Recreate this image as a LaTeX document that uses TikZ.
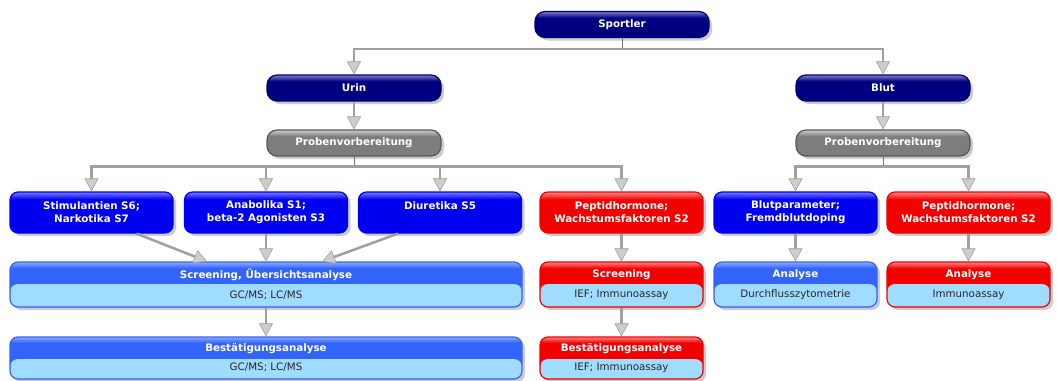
\documentclass[tikz,border=0pt]{standalone}
\usepackage{fontspec}
\setmainfont{DejaVu Sans}
\usetikzlibrary{arrows.meta,shadows,positioning}
\definecolor{N}{RGB}{0,0,128}
\definecolor{NL}{RGB}{125,125,205}
\definecolor{P}{RGB}{125,125,125}
\definecolor{PL}{RGB}{205,205,205}
\definecolor{B}{RGB}{0,0,240}
\definecolor{BL}{RGB}{120,120,255}
\definecolor{R}{RGB}{242,0,0}
\definecolor{RL}{RGB}{255,135,135}
\definecolor{M}{RGB}{50,100,250}
\definecolor{ML}{RGB}{140,170,255}
\definecolor{C}{RGB}{160,220,255}
\definecolor{L}{RGB}{160,160,160}
\definecolor{T}{RGB}{205,205,205}
% glossy top band: name, colour, where the band starts
\newcommand{\glossy}[3]{\pgfdeclareverticalshading{#1}{100bp}{color(0bp)=(#2); color(#3)=(#2); color(75bp)=(#2L); color(100bp)=(#2L)}}
\glossy{glossN}{N}{63bp}
\glossy{glossP}{P}{63bp}
\glossy{glossB}{B}{66bp}
\glossy{glossR}{R}{66bp}
\glossy{glossM}{M}{68bp}
\glossy{glossH}{R}{68bp}
\newcommand{\dpfont}{\fontsize{10.3}{13}\selectfont}
\newcommand{\bandtext}[1]{\textcolor{black!85}{\mdseries #1}}
\tikzstyle{box} = [rectangle, inner sep=0pt, align=center, text=white,
  font=\dpfont\bfseries, shade, line width=1.2pt,
  drop shadow={shadow xshift=3pt, shadow yshift=-3pt, opacity=0.4}]
\tikzstyle{navybox} = [box, draw=N!80!black, shading=glossN, rounded corners=10pt,
  minimum width=174pt, minimum height=26pt]
\tikzstyle{graybox} = [navybox, draw=P!70!black, shading=glossP]
\tikzstyle{bluebox} = [box, draw=B, shading=glossB, rounded corners=8pt,
  minimum width=163pt, minimum height=41pt]
\tikzstyle{redbox} = [bluebox, draw=R, shading=glossR]
\tikzstyle{pair} = [box, rounded corners=8pt, minimum width=163pt, minimum height=45pt,
  path picture={\fill[C] ([yshift=-22pt]path picture bounding box.north west)
    rectangle (path picture bounding box.south east);}]
\tikzstyle{bluepair} = [pair, draw=M, shading=glossM]
\tikzstyle{redpair} = [pair, draw=R, shading=glossH]
\tikzstyle{conn} = [draw=L, line width=2.5pt,
  -{Triangle[width=14pt,length=13pt,fill=T,line width=0.6pt]}]
\tikzstyle{stub} = [draw=black!55, line width=0.8pt]
\begin{document}
\begin{tikzpicture}[x=1pt,y=-1pt]
\useasboundingbox (0,0) rectangle (1057,380);
% top
\node[navybox] (sp) at (622,24.5) {Sportler};
\node[navybox] (urin) at (354,88) {Urin};
\node[navybox] (blut) at (883,88) {Blut};
\node[graybox] (prob1) at (354,143) {Probenvorbereitung};
\node[graybox] (prob2) at (883,143) {Probenvorbereitung};
% substance groups
\node[bluebox] (stim) at (91.5,212.5) {Stimulantien S6;\\Narkotika S7};
\node[bluebox] (anab) at (266,212.5) {Anabolika S1;\\beta-2 Agonisten S3};
\node[bluebox] (diur) at (440,212.5) {Diuretika S5\\\mbox{}};
\node[redbox] (pep1) at (621.5,212.5) {Peptidhormone;\\Wachstumsfaktoren S2};
\node[bluebox] (bpar) at (795.5,212.5) {Blutparameter;\\Fremdblutdoping};
\node[redbox] (pep2) at (968.5,212.5) {Peptidhormone;\\Wachstumsfaktoren S2};
% analyses
\node[bluepair, minimum width=512pt] (scr) at (266,284.5)
  {Screening, Übersichtsanalyse\\[7pt]\bandtext{GC/MS; LC/MS}};
\node[redpair] (scr2) at (621.5,284.5) {Screening\\[7pt]\bandtext{IEF; Immunoassay}};
\node[bluepair] (ana1) at (795.5,284.5) {Analyse\\[7pt]\bandtext{Durchflusszytometrie}};
\node[redpair] (ana2) at (968.5,284.5) {Analyse\\[7pt]\bandtext{Immunoassay}};
\node[bluepair, minimum width=512pt, minimum height=42pt] (best) at (266,358)
  {Bestätigungsanalyse\\[6pt]\bandtext{GC/MS; LC/MS}};
\node[redpair, minimum height=42pt] (best2) at (621.5,358)
  {Bestätigungsanalyse\\[6pt]\bandtext{IEF; Immunoassay}};
% connectors
\coordinate (spbus) at ([yshift=-11pt]sp.south);
\draw[stub] (sp.south) -- (spbus);
\draw[conn] (spbus) -| (urin.north);
\draw[conn] (spbus) -| (blut.north);
\draw[conn] (urin) -- (prob1);
\draw[conn] (blut) -- (prob2);
\coordinate (bus1) at ([yshift=-10pt]prob1.south);
\draw[stub] (prob1.south) -- (bus1);
\foreach \n in {stim,anab,diur,pep1}
  \draw[conn] (bus1) -| (\n.north);
\coordinate (bus2) at ([yshift=-10pt]prob2.south);
\draw[stub] (prob2.south) -- (bus2);
\foreach \n in {bpar,pep2}
  \draw[conn] (bus2) -| (\n.north);
\draw[conn] ([xshift=45pt]stim.south) -- ([xshift=-59pt]scr.north);
\draw[conn] (anab.south) -- (scr.north);
\draw[conn] ([xshift=-42pt]diur.south) -- ([xshift=56pt]scr.north);
\draw[conn] (scr) -- (best);
\draw[conn] (pep1) -- (scr2);
\draw[conn] (scr2) -- (best2);
\draw[conn] (bpar) -- (ana1);
\draw[conn] (pep2) -- (ana2);
\end{tikzpicture}
\end{document}
